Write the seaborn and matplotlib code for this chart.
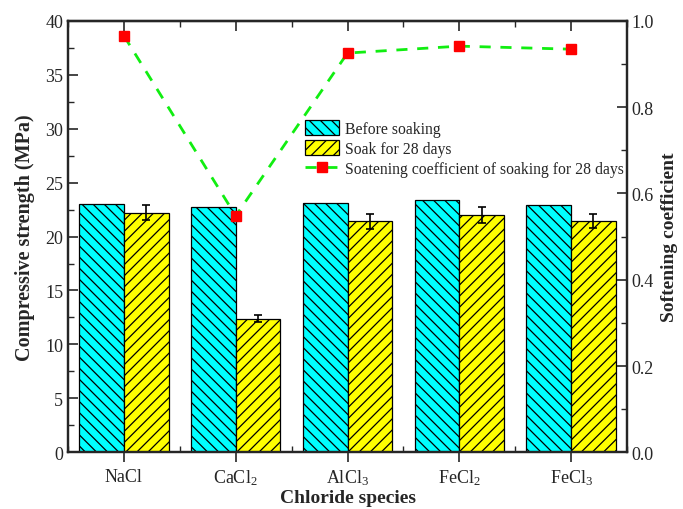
import numpy as np
import pandas as pd
import matplotlib
matplotlib.use("Agg")
import matplotlib.pyplot as plt
from matplotlib.patches import Patch
from matplotlib.lines import Line2D
from matplotlib.ticker import MultipleLocator, FormatStrFormatter, NullFormatter
import seaborn as sns

# ---- data ----
species = ["NaCl", "CaCl$_2$", "AlCl$_3$", "FeCl$_2$", "FeCl$_3$"]
before_soaking = [23.0, 22.7, 23.1, 23.4, 22.9]
soak_28_days = [22.2, 12.4, 21.4, 22.0, 21.4]
soak_err = [0.7, 0.3, 0.7, 0.7, 0.65]
softening = [0.965, 0.548, 0.925, 0.941, 0.934]

series_names = ["Before soaking", "Soak for 28 days"]
line_name = "Soatening coefficient of soaking for 28 days"

df = pd.DataFrame({
    "species": species * 2,
    "strength": before_soaking + soak_28_days,
    "series": [series_names[0]] * 5 + [series_names[1]] * 5,
})

sns.set_style("ticks")
plt.rcParams["font.family"] = ["Liberation Serif", "DejaVu Serif"]
plt.rcParams["mathtext.fontset"] = "custom"
plt.rcParams["mathtext.rm"] = "Liberation Serif"
plt.rcParams["mathtext.it"] = "Liberation Serif:italic"
plt.rcParams["mathtext.bf"] = "Liberation Serif:bold"
plt.rcParams["hatch.linewidth"] = 0.9
plt.rcParams["hatch.color"] = "black"

fig = plt.figure(figsize=(6.83, 5.10), dpi=100)
ax = fig.add_axes([0.0996, 0.111, 0.8184, 0.8465])

colors = ["#00FFFF", "#FFFF00"]
hatches = ["\\\\\\", "///"]
line_color = "#11EE11"

sns.barplot(data=df, x="species", y="strength", hue="series",
            palette=colors, saturation=1, errorbar=None, width=0.8,
            edgecolor="black", linewidth=0.9, ax=ax, legend=False)

# hatch each bar group
n = len(species)
for i, patch in enumerate(ax.patches[:2 * n]):
    patch.set_hatch(hatches[i // n])

# error bars on the soaked bars
soak_patches = ax.patches[n:2 * n]
xs = [p.get_x() + p.get_width() / 2 for p in soak_patches]
ax.errorbar(xs, soak_28_days, yerr=soak_err, fmt="none", ecolor="black",
            elinewidth=1.2, capsize=3, capthick=1.2, zorder=5)

ax.set_xlim(-0.5, 4.5)
ax.set_ylim(0, 40)
ax.yaxis.set_major_locator(MultipleLocator(5))
ax.yaxis.set_minor_locator(MultipleLocator(2.5))
ax.xaxis.set_minor_locator(MultipleLocator(0.5))
ax.set_xlabel("Chloride species", fontsize=14, fontweight="bold", labelpad=1)
ax.set_ylabel("Compressive strength (MPa)", fontsize=14.5, fontweight="bold",
              labelpad=7)

ax.tick_params(axis="y", which="major", direction="in", length=7, width=1.2,
               labelsize=13)
ax.tick_params(axis="y", which="minor", direction="in", length=4, width=1.0)
ax.tick_params(axis="x", which="major", direction="out", length=7, width=1.2,
               labelsize=13, top=False, pad=4)
ax.tick_params(axis="x", which="minor", direction="in", length=4, width=1.0,
               top=False)
for s in ax.spines.values():
    s.set_linewidth(1.6)

# inward ticks along the top edge
top = ax.secondary_xaxis("top")
top.set_xticks(np.arange(n))
top.xaxis.set_minor_locator(MultipleLocator(0.5))
top.xaxis.set_major_formatter(NullFormatter())
top.tick_params(which="major", direction="in", length=7, width=1.2)
top.tick_params(which="minor", direction="in", length=4, width=1.0)
top.spines["top"].set_linewidth(1.6)

# softening coefficient on the secondary axis
ax2 = ax.twinx()
ax2.plot(np.arange(n), softening, linestyle=(0, (4, 3.5)), color=line_color,
         linewidth=2, marker="s", markersize=7, markerfacecolor="#FF0000",
         markeredgecolor="#FF0000", zorder=6)
ax2.set_ylim(0, 1.0)
ax2.yaxis.set_major_locator(MultipleLocator(0.2))
ax2.yaxis.set_minor_locator(MultipleLocator(0.1))
ax2.yaxis.set_major_formatter(FormatStrFormatter("%.1f"))
ax2.tick_params(axis="y", which="major", direction="in", length=7, width=1.2,
                labelsize=13)
ax2.tick_params(axis="y", which="minor", direction="in", length=4, width=1.0)
ax2.set_ylabel("Softening coefficient", fontsize=14, fontweight="bold",
               labelpad=5)
for s in ax2.spines.values():
    s.set_linewidth(1.6)

handles = [
    Patch(facecolor=colors[0], edgecolor="black", hatch=hatches[0], linewidth=0.9),
    Patch(facecolor=colors[1], edgecolor="black", hatch=hatches[1], linewidth=0.9),
    Line2D([], [], linestyle=(0, (4, 3.5)), color=line_color, linewidth=2,
           marker="s", markersize=7, markerfacecolor="#FF0000",
           markeredgecolor="#FF0000"),
]
fig.legend(handles, series_names + [line_name], loc="upper left",
           bbox_to_anchor=(0.446, 0.762), frameon=False, fontsize=11.3,
           handlelength=2.2, handleheight=1.05, handletextpad=0.4,
           labelspacing=0.22, borderpad=0.0, borderaxespad=0.0)

fig.savefig("out.png", dpi=100)
